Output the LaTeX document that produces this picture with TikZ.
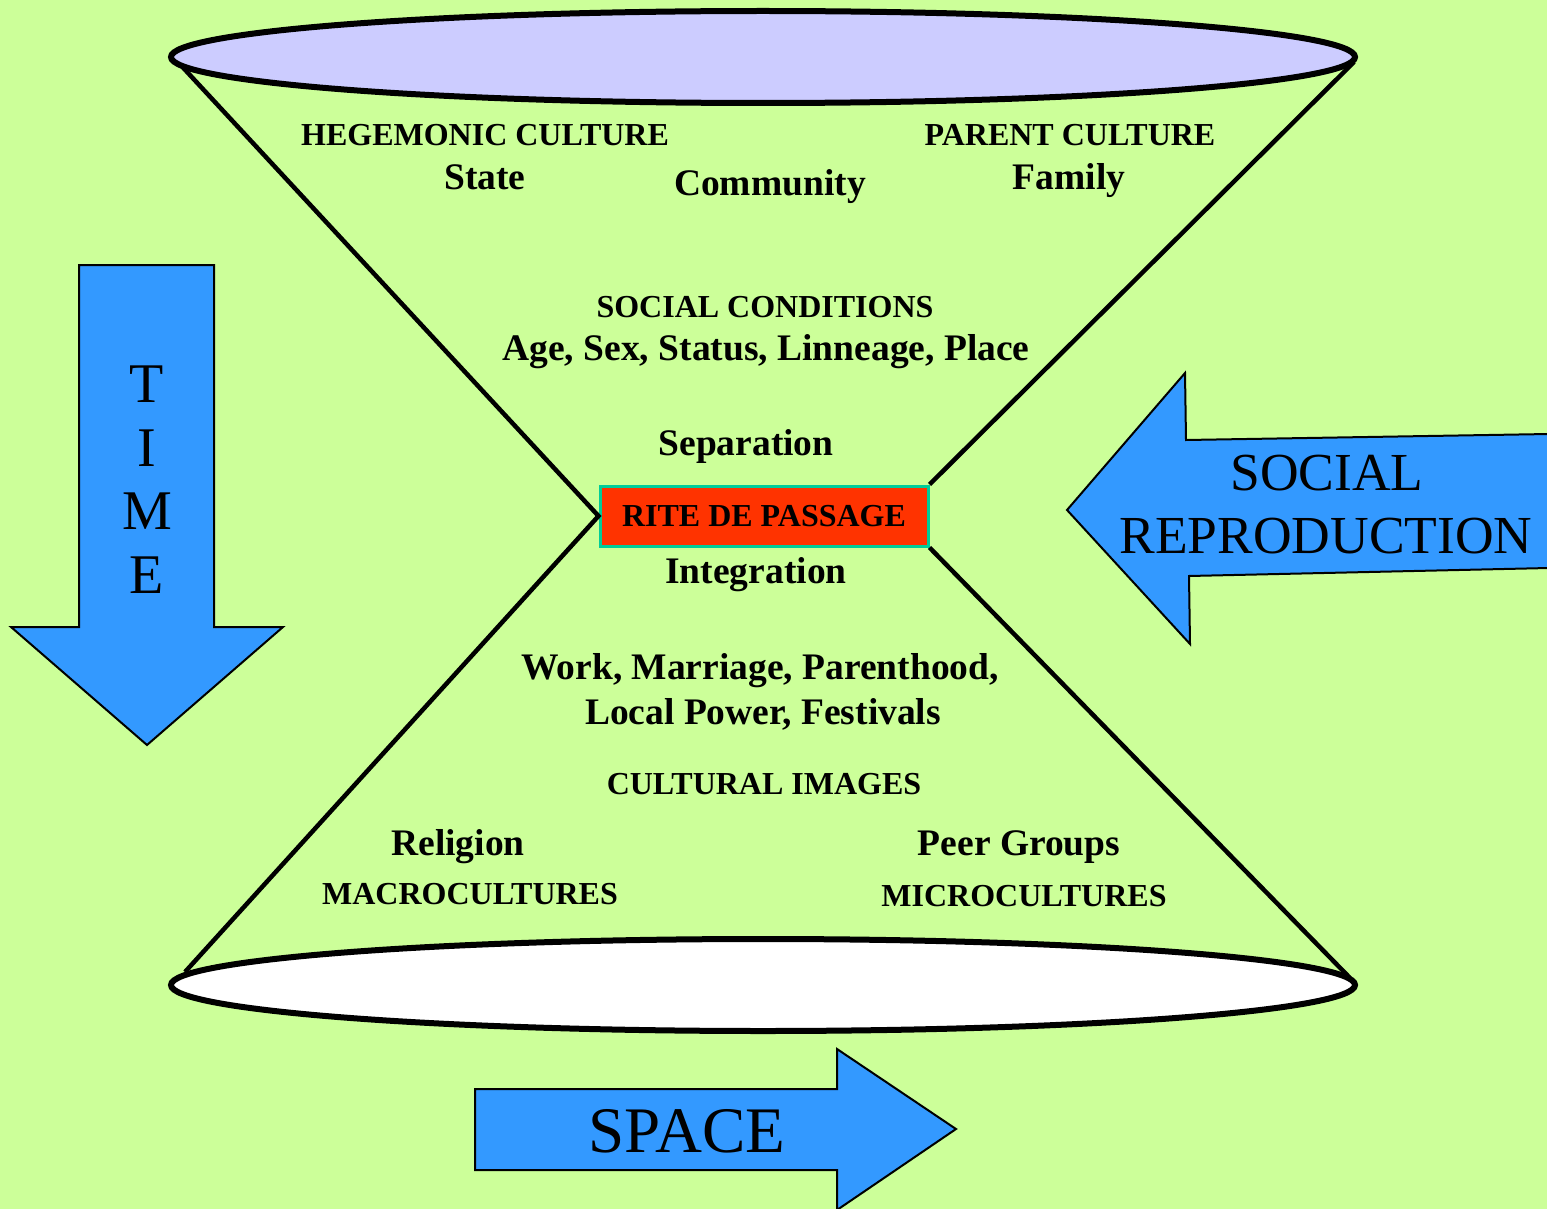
\documentclass[tikz,border=0pt]{standalone}
\usepackage{fontspec}
\setmainfont{Liberation Serif}
\definecolor{bg}{HTML}{CCFF99}
\definecolor{lav}{HTML}{CCCCFF}
\definecolor{arrowblue}{HTML}{3399FF}
\definecolor{riteRed}{HTML}{FF3300}
\definecolor{riteEdge}{HTML}{00CC99}
\tikzset{
  lbl/.style={font=\bfseries\fontsize{32}{36}\selectfont, anchor=base, inner sep=0pt},
  big/.style={font=\bfseries\fontsize{37.5}{42}\selectfont, anchor=base, inner sep=0pt},
  arrtxt/.style={font=\fontsize{54}{60}\selectfont, anchor=base, inner sep=0pt},
  bluearrow/.style={fill=arrowblue, draw=black, line width=2pt, line join=miter},
  glass/.style={line width=4.5pt, draw=black},
  rim/.style={line width=6pt, draw=black}
}
\begin{document}
\begin{tikzpicture}[x=1pt,y=-1pt]
\fill[bg] (0,0) rectangle (1547,1209);
\useasboundingbox (0,0) rectangle (1547,1209);

% central box
\node[draw=riteEdge, line width=3pt, fill=riteRed, minimum width=328pt, minimum height=60pt, inner sep=0pt] (rite) at (764,516) {};
\node[lbl] (ritetxt) at (764,526) {RITE DE PASSAGE};

% hourglass
\coordinate (tl) at (176,60);
\coordinate (tr) at (1354,62);
\coordinate (bl) at (185,972);
\coordinate (br) at (1350,978);
\draw[glass] (tl) -- (rite.west) -- (bl);
\draw[glass] (tr) -- (rite.north east);
\draw[glass] (rite.south east) -- (br);

% rims
\draw[rim, fill=lav] (763,57) ellipse [x radius=592, y radius=46];
\draw[rim, fill=white] (763,985) ellipse [x radius=592, y radius=46];

% TIME arrow
\draw[bluearrow] (79,265) -- (214,265) -- (214,627) -- (283,627) -- (147,745) -- (11,627) -- (79,627) -- cycle;
\node[arrtxt, font=\fontsize{56}{60}\selectfont] (t1) at (147,402) {T};
\node[arrtxt, font=\fontsize{56}{60}\selectfont] (t2) at (147,466) {I};
\node[arrtxt, font=\fontsize{56}{60}\selectfont] (t3) at (147,529) {M};
\node[arrtxt, font=\fontsize{56}{60}\selectfont] (t4) at (147,593) {E};

% SOCIAL REPRODUCTION arrow
\draw[bluearrow] (1067,510) -- (1185,373) -- (1186,440) -- (1549,434) -- (1549,568) -- (1189,576) -- (1190,644) -- cycle;
\node[arrtxt, font=\fontsize{53.5}{60}\selectfont] (sr1) at (1327,490) {SOCIAL};
\node[arrtxt, font=\fontsize{53.5}{60}\selectfont] (sr2) at (1326,553) {REPRODUCTION};

% SPACE arrow
\draw[bluearrow] (475,1089) -- (837,1089) -- (837,1049) -- (956,1129) -- (837,1210) -- (837,1170) -- (475,1170) -- cycle;
\node[arrtxt, font=\fontsize{65}{70}\selectfont] (space) at (687,1152) {SPACE};

% labels
\node[lbl] (hego) at (485,146) {HEGEMONIC CULTURE};
\node[big] (state) at (485,190) {State};
\node[big] (comm) at (770,196) {Community};
\node[lbl] (parent) at (1070,146) {PARENT CULTURE};
\node[big] (family) at (1069,190) {Family};
\node[lbl] (soccond) at (765,317) {SOCIAL CONDITIONS};
\node[big] (age) at (766,360) {Age, Sex, Status, Linneage, Place};
\node[big] (sep) at (746,455) {Separation};
\node[big] (integ) at (756,583) {Integration};
\node[big] (work) at (760,679) {Work, Marriage, Parenthood,};
\node[big] (local) at (763,724) {Local Power, Festivals};
\node[lbl] (cultimg) at (764,794) {CULTURAL IMAGES};
\node[big] (relig) at (458,855) {Religion};
\node[lbl] (macro) at (470,904) {MACROCULTURES};
\node[big] (peer) at (1019,855) {Peer Groups};
\node[lbl] (micro) at (1024,906) {MICROCULTURES};
\end{tikzpicture}
\end{document}
